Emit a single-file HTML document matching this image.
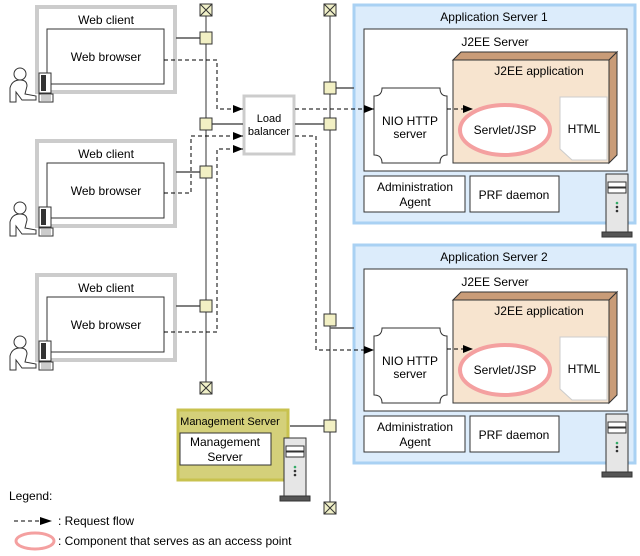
<!DOCTYPE html>
<html><head><style>body{margin:0;background:#fff}svg{display:block}text{font-family:"Liberation Sans",sans-serif;font-size:12px;fill:#000}</style></head>
<body>
<svg width="640" height="556" viewBox="0 0 640 556" xmlns="http://www.w3.org/2000/svg">
<defs>
<marker id="ar" markerWidth="10" markerHeight="8" refX="10" refY="4" orient="auto" markerUnits="userSpaceOnUse"><path d="M0,0 L10,4 L0,8z" fill="#000"/></marker>
<g id="term"><rect x="-6" y="-6" width="12" height="12" fill="#f0f0c8" stroke="#333"/><path d="M-6,-6L6,6M6,-6L-6,6" stroke="#333"/></g>
<rect id="sq" x="-6" y="-6" width="12" height="12" fill="#f2f0c4" stroke="#333"/>
<g id="person">
<circle cx="14" cy="6" r="6" fill="#fff" stroke="#333"/>
<path d="M4,34 L4,20 Q6,12 14,12 Q21,12 21,18 L19,26 L30,28 L30,32 L16,32 L10,24 L10,34z" fill="#fff" stroke="#333"/>
<rect x="33" y="5" width="12" height="20" fill="#fff" stroke="#333"/><rect x="35" y="7" width="5" height="16" fill="#333"/>
<rect x="33" y="26" width="14" height="8" fill="#fff" stroke="#333"/><path d="M35,28h10M35,30h10M35,32h10" stroke="#333" stroke-width="0.5"/>
</g>
<g id="srv">
<rect x="4" y="0" width="22" height="58" fill="#e6e6e6" stroke="#333"/>
<rect x="6" y="8" width="18" height="5" fill="#fff" stroke="#333"/><rect x="6" y="14" width="18" height="5" fill="#fff" stroke="#333"/>
<circle cx="15" cy="29" r="1.3" fill="#3a6"/><circle cx="15" cy="33" r="1.3" fill="#333"/><circle cx="15" cy="37" r="1.3" fill="#333"/>
<rect x="0" y="58" width="30" height="5" fill="#555" stroke="#333"/>
</g>
<g id="client">
<rect x="37" y="7" width="138" height="85" fill="#fff" stroke="#ccc" stroke-width="4"/>
<text x="106" y="24" text-anchor="middle">Web client</text>
<rect x="47" y="29" width="117" height="55" fill="#fff" stroke="#333"/>
<text x="106" y="61" text-anchor="middle">Web browser</text>
<line x1="176" y1="38" x2="206" y2="38" stroke="#555" stroke-width="1.5"/>
<use href="#person" x="6" y="68"/>
</g>
<g id="app">
<rect x="354" y="5" width="281" height="218" fill="#dcecfb" stroke="#a9d1f3" stroke-width="3"/>
<rect x="364" y="29" width="263" height="142" fill="#fff" stroke="#333"/>
<path d="M453,60 L461,52 L617,52 L609,60z" fill="#c99c78" stroke="#333"/>
<path d="M609,60 L617,52 L617,155 L609,163z" fill="#c99c78" stroke="#333"/>
<rect x="453" y="60" width="156" height="103" fill="#f7e4cf" stroke="#333"/>
<path d="M382,88 L440,88 Q440,96 447,96 L447,155 Q440,155 440,163 L382,163 Q382,155 374,155 L374,96 Q382,96 382,88z" fill="#fff" stroke="#333"/>
<path d="M560,97 L607,97 L607,160 L572,160 L560,149z" fill="#fff" stroke="#ccc"/>
<ellipse cx="505" cy="130" rx="45" ry="25" fill="#fff" stroke="#f4a0a0" stroke-width="4"/>
<rect x="364" y="176" width="101" height="36" fill="#fff" stroke="#333"/>
<rect x="470" y="176" width="89" height="36" fill="#fff" stroke="#333"/>
<text x="495" y="46" text-anchor="middle">J2EE Server</text>
<text x="539" y="75" text-anchor="middle">J2EE application</text>
<text x="410" y="125" text-anchor="middle">NIO HTTP</text>
<text x="410" y="138" text-anchor="middle">server</text>
<text x="505" y="134" text-anchor="middle">Servlet/JSP</text>
<text x="584" y="133" text-anchor="middle">HTML</text>
<text x="415" y="191" text-anchor="middle">Administration</text>
<text x="415" y="206" text-anchor="middle">Agent</text>
<text x="514" y="199" text-anchor="middle">PRF daemon</text>
<line x1="330" y1="88" x2="354" y2="88" stroke="#555" stroke-width="1.5"/>
<line x1="447" y1="109" x2="473" y2="109" stroke="#000" stroke-dasharray="4,3" marker-end="url(#ar)"/>
<use href="#srv" x="602" y="174"/>
</g>
</defs>

<line x1="206" y1="10" x2="206" y2="388" stroke="#333"/>
<line x1="330" y1="10" x2="330" y2="508" stroke="#333"/>

<use href="#client"/>
<use href="#client" y="134"/>
<use href="#client" y="268"/>

<use href="#app"/>
<use href="#app" y="240"/>
<text x="494" y="21" text-anchor="middle">Application Server 1</text>
<text x="494" y="261" text-anchor="middle">Application Server 2</text>

<!-- load balancer -->
<rect x="244" y="96" width="50" height="58" fill="#fff" stroke="#ccc" stroke-width="3"/>
<text x="269" y="122" text-anchor="middle" style="font-size:11px">Load</text>
<text x="269" y="135" text-anchor="middle" style="font-size:11px">balancer</text>
<line x1="206" y1="124" x2="243" y2="124" stroke="#555" stroke-width="1.5"/>
<line x1="295" y1="124" x2="330" y2="124" stroke="#555" stroke-width="1.5"/>

<!-- management -->
<rect x="178" y="410" width="110" height="70" fill="#d4d07a" stroke="#c8c24f" stroke-width="3"/>
<text x="230" y="425" text-anchor="middle" style="font-size:11px">Management Server</text>
<rect x="180" y="433" width="91" height="32" fill="#fff" stroke="#333"/>
<text x="225" y="446" text-anchor="middle">Management</text>
<text x="225" y="461" text-anchor="middle">Server</text>
<line x1="290" y1="426" x2="330" y2="426" stroke="#555" stroke-width="1.5"/>
<use href="#srv" x="280" y="438"/>

<!-- dashed flows -->
<g fill="none" stroke="#000" stroke-dasharray="4,3">
<polyline points="164,60 217,60 217,109 243,109" marker-end="url(#ar)"/>
<polyline points="164,193 191,193 191,136 243,136" marker-end="url(#ar)"/>
<polyline points="164,332 217,332 217,149 243,149" marker-end="url(#ar)"/>
<polyline points="295,109 374,109" marker-end="url(#ar)"/>
<polyline points="295,136 316,136 316,350 374,350" marker-end="url(#ar)"/>
</g>

<use href="#sq" x="206" y="38"/><use href="#sq" x="206" y="124"/><use href="#sq" x="206" y="172"/><use href="#sq" x="206" y="306"/>
<use href="#sq" x="330" y="88"/><use href="#sq" x="330" y="124"/><use href="#sq" x="330" y="320"/><use href="#sq" x="330" y="426"/>
<use href="#term" x="206" y="10"/><use href="#term" x="206" y="388"/>
<use href="#term" x="330" y="10"/><use href="#term" x="330" y="508"/>

<!-- legend -->
<text x="9" y="500">Legend:</text>
<line x1="14" y1="521" x2="44" y2="521" stroke="#000" stroke-dasharray="4,3"/>
<path d="M40,517 L52,521 L40,525z" fill="#000"/>
<text x="58" y="525">: Request flow</text>
<ellipse cx="35" cy="541" rx="19" ry="8" fill="#fff" stroke="#f4a0a0" stroke-width="3"/>
<text x="58" y="545">: Component that serves as an access point</text>
</svg>
</body></html>
